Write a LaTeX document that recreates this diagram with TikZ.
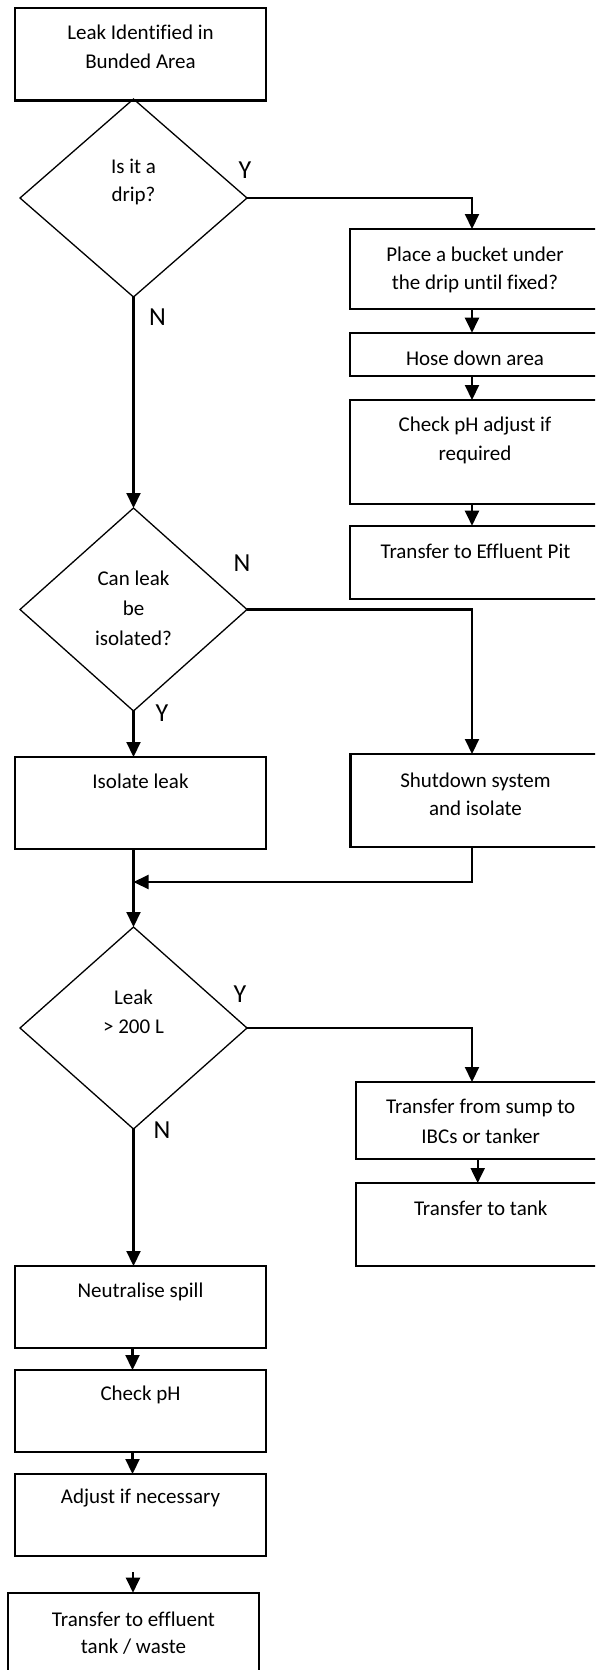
\documentclass[tikz,border=0pt]{standalone}
\usepackage{fontspec}
\setmainfont{Carlito}[Ligatures=NoCommon]
\usetikzlibrary{arrows.meta,shapes.geometric}

\tikzset{
  stepbox/.style={draw, line width=2.1pt, rectangle, inner sep=0pt, outer sep=0pt, anchor=north west},
  decision/.style={draw, line width=1.3pt, diamond, inner sep=0pt, outer sep=0pt, minimum width=227pt},
  conn/.style={line width=2.1pt, -{Triangle[length=15pt,width=14pt]}},
  txt/.style={inner sep=0pt, anchor=base, font=\fontsize{21}{25}\selectfont},
  yn/.style={inner sep=0pt, anchor=base, font=\fontsize{26}{30}\selectfont},
}

\begin{document}
\begin{tikzpicture}[x=1pt, y=-1pt]
\useasboundingbox (0,0) rectangle (595,1670);
\clip (0,0) rectangle (595,1670);
\fill[white] (0,0) rectangle (595,1670);

% ---- process boxes ----
\node[stepbox, minimum width=251pt, minimum height=92.5pt] (start) at (15,8) {};
\node[stepbox, minimum width=250pt, minimum height=80pt]   (bucket) at (350,229) {};
\node[stepbox, minimum width=250pt, minimum height=43.3pt] (hose) at (350,332.7) {};
\node[stepbox, minimum width=250pt, minimum height=104pt]  (adjph) at (350,400) {};
\node[stepbox, minimum width=250pt, minimum height=73.3pt] (pit) at (350,525.7) {};
\node[stepbox, minimum width=250pt, minimum height=93pt]   (shut) at (350.5,754) {};
\node[stepbox, minimum width=251pt, minimum height=92pt]   (iso) at (15,757) {};
\node[stepbox, minimum width=250pt, minimum height=77pt]   (sump) at (355.7,1082) {};
\node[stepbox, minimum width=250pt, minimum height=83pt]   (tank) at (355.7,1183) {};
\node[stepbox, minimum width=251pt, minimum height=82pt]   (neut) at (15,1266) {};
\node[stepbox, minimum width=251pt, minimum height=82pt]   (chkph) at (15,1370) {};
\node[stepbox, minimum width=251pt, minimum height=82pt]   (adj) at (15,1474) {};
\node[stepbox, minimum width=250.4pt, minimum height=110pt] (last) at (8.3,1592.7) {};

% ---- decisions ----
\node[decision, minimum height=198pt] (drip) at (133.5,198) {};
\node[decision, minimum height=203pt] (canIso) at (133.5,609.5) {};
\node[decision, minimum height=202pt] (big) at (133.5,1028) {};

% ---- texts ----
\node[txt] (tStartA) at (140.5,40) {Leak Identified in};
\node[txt] (tStartB) at (140.5,69) {Bunded Area};
\node[txt] (tDripA) at (133.5,173) {Is it a};
\node[txt] (tDripB) at (133.5,201) {drip?};
\node[txt] (tBucketA) at (475,261.5) {Place a bucket under};
\node[txt] (tBucketB) at (475,289.5) {the drip until fixed?};
\node[txt] (tHose) at (475,365) {Hose down area};
\node[txt] (tAdjA) at (475,431.5) {Check pH adjust if};
\node[txt] (tAdjB) at (475,460) {required};
\node[txt] (tPit) at (475.5,558) {Transfer to Effluent Pit};
\node[txt] (tIsoA) at (133.5,585) {Can leak};
\node[txt] (tIsoB) at (133.5,615) {be};
\node[txt] (tIsoC) at (133.5,645) {isolated?};
\node[txt] (tIso) at (140.5,788) {Isolate leak};
\node[txt] (tShutA) at (475.5,787) {Shutdown system};
\node[txt] (tShutB) at (475.5,815.5) {and isolate};
\node[txt] (tBigA) at (133.5,1004) {Leak};
\node[txt] (tBigB) at (133.5,1033) {> 200 L};
\node[txt] (tSumpA) at (480.7,1113) {Transfer from sump to};
\node[txt] (tSumpB) at (480.7,1143) {IBCs or tanker};
\node[txt] (tTank) at (480.7,1215) {Transfer to tank};
\node[txt] (tNeut) at (140.5,1297) {Neutralise spill};
\node[txt] (tChk) at (140.5,1400) {Check pH};
\node[txt] (tAdj) at (140.5,1503.5) {Adjust if necessary};
\node[txt] (tLastA) at (133.5,1626) {Transfer to effluent};
\node[txt] (tLastB) at (133.5,1653) {tank / waste};

% ---- Y / N labels ----
\node[yn] (yDrip) at (245,178) {Y};
\node[yn] (nDrip) at (157.5,325) {N};
\node[yn] (nIso) at (242,571) {N};
\node[yn] (yIso) at (162,721.5) {Y};
\node[yn] (yBig) at (240,1002.5) {Y};
\node[yn] (nBig) at (162,1138) {N};

% ---- connectors ----
\draw[conn] (drip.east) -| ([xshift=-3pt]bucket.north);
\draw[conn] ([xshift=-3pt]bucket.south) -- ([xshift=-3pt]hose.north);
\draw[conn] ([xshift=-3pt]hose.south) -- ([xshift=-3pt]adjph.north);
\draw[conn] ([xshift=-3pt]adjph.south) -- ([xshift=-3pt]pit.north);
\draw[conn] (drip.south) -- (canIso.north);
\draw[conn] (canIso.east) -| ([xshift=-3.5pt]shut.north);
\draw[conn] (canIso.south) -- (canIso.south |- iso.north);
\coordinate (merge) at (133.5,882);
\draw[conn] ([xshift=-3.5pt]shut.south) |- (merge);
\draw[conn] (big.north |- iso.south) -- (big.north);
\draw[conn] (big.east) -| ([xshift=-8.7pt]sump.north);
\draw[conn] ([xshift=-3pt]sump.south) -- ([xshift=-3pt]tank.north);
\draw[conn] (big.south) -- (big.south |- neut.north);
\draw[conn] ([xshift=-8pt]neut.south) -- ([xshift=-8pt]chkph.north);
\draw[conn] ([xshift=-8pt]chkph.south) -- ([xshift=-8pt]adj.north);
\coordinate (gapTop) at (133,1572);
\draw[conn] (gapTop) -- (gapTop |- last.north);
\end{tikzpicture}
\end{document}
